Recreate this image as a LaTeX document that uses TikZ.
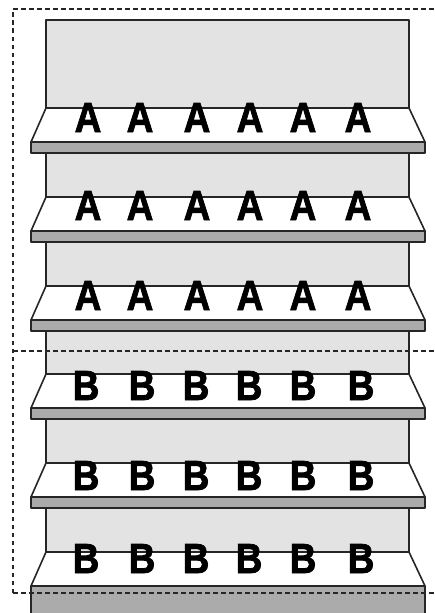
\documentclass[tikz,border=0pt]{standalone}
\usepackage{fontspec}
\newfontfamily\heavy{Liberation Sans Bold}[FakeBold=2]
\begin{document}
\begin{tikzpicture}[x=1pt,y=-1pt,
  ln/.style={draw=black!85,line width=1.6pt,line join=round},
  panel/.style={ln,fill=black!11},
  top/.style={ln,fill=white},
  strip/.style={ln,fill=black!33},
  dsh/.style={draw=black!85,line width=1.9pt,dash pattern=on 4.5pt off 3.5pt},
  lab/.style={anchor=base,inner sep=0pt,xscale=0.88,font=\heavy\fontsize{42}{42}\selectfont}]
\useasboundingbox (0,0) rectangle (435,613);
\fill[white] (0,0) rectangle (435,613);
\path[panel] (46,20) rectangle (409,600);
\foreach \b [count=\i] in {108,197,286,374,463,552}{
  \path[top] (46,\b) -- (409,\b) -- (425,\b+34) -- (31,\b+34) -- cycle;
  \ifnum\i<6
    \path[strip] (31,\b+34) rectangle (425,\b+45);
  \else
    \path[strip] (31,\b+34) rectangle (425,630);
  \fi
}
\foreach \b [count=\r] in {132,220,310}{
  \foreach \x [count=\c] in {88,140,197,250,303,358}
    \node[lab] (A\r\c) at (\x,\b) {A};
}
\foreach \b [count=\r] in {400,490,573}{
  \foreach \x [count=\c] in {86,142,196,249,303,361}
    \node[lab] (B\r\c) at (\x,\b) {B};
}
\path[dsh] (13,593) -- (13,9) -- (436,9);
\path[dsh] (13,351) -- (436,351);
\path[dsh] (13,593) -- (436,593);
\end{tikzpicture}
\end{document}
